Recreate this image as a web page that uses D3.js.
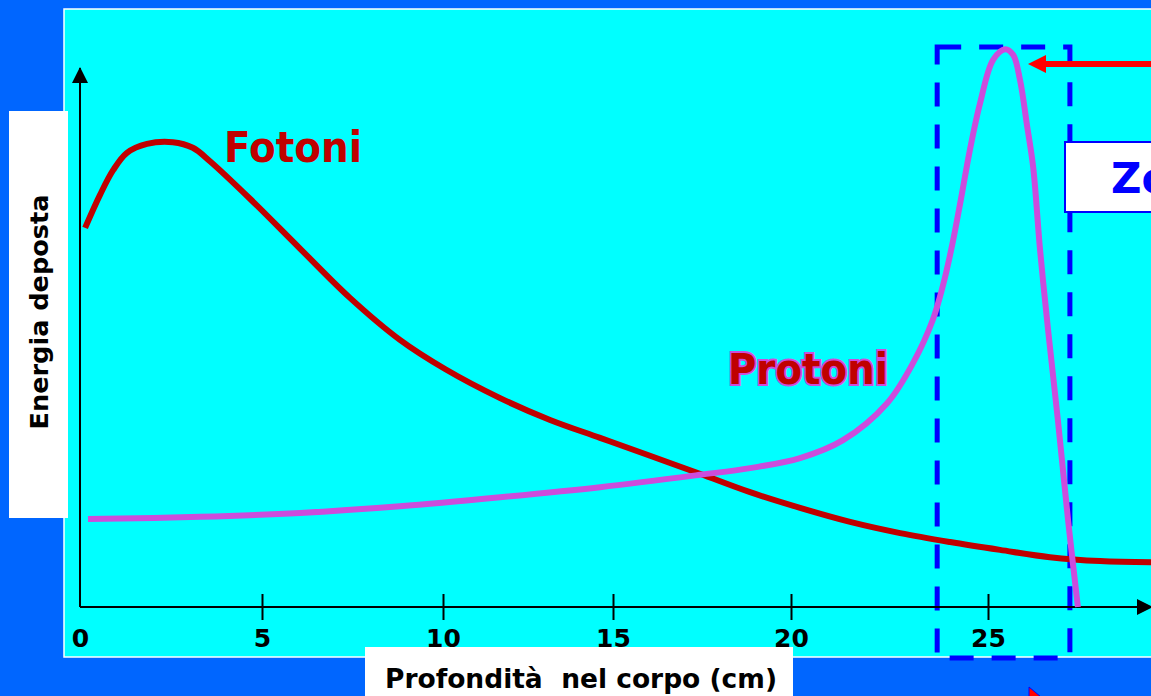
<!DOCTYPE html>
<html>
<head>
<meta charset="utf-8">
<script src="https://cdn.jsdelivr.net/npm/d3@7"></script>
<style>
  html, body { margin: 0; padding: 0; overflow: hidden; background: #0066ff; }
  svg { display: block; }
  text { font-family: "DejaVu Sans", Verdana, sans-serif; font-weight: bold; }
</style>
</head>
<body>
<div id="chart"></div>
<script>
// depth (cm) ticks drawn along the bottom axis
const tickValues = [0, 5, 10, 15, 20, 25];
const tickLabels = ["0", "5", "10", "15", "20", "25"];

// photon dose curve: depth in cm, deposited energy in arbitrary units (0-100)
const fotoniDepth = [0.14, 0.55, 0.91, 1.29, 1.84, 2.55, 3.10, 3.57, 4.67, 6.05, 7.43, 8.81, 10.06, 11.68,
  13.15, 14.62, 16.04, 17.44, 18.85, 20.23, 21.50, 22.77, 24.04, 25.33, 26.70, 28.08, 29.48];
const fotoniDose = [67.7, 73.6, 78.0, 81.1, 82.7, 83.0, 82.0, 79.6, 72.9, 64.0, 55.2, 47.7, 42.5, 37.3,
  33.4, 30.2, 27.0, 23.8, 20.5, 17.7, 15.2, 13.2, 11.6, 10.2, 8.9, 8.2, 8.0];

// proton dose curve (Bragg peak)
const protoniDepth = [0.22, 3.30, 6.05, 8.81, 11.68, 14.62, 17.44, 18.85, 20.23, 21.32, 22.44, 23.10, 23.60,
  23.86, 24.09, 24.31, 24.54, 24.80, 25.14, 25.47, 25.69, 25.88, 26.07, 26.24, 26.43, 26.65, 26.92, 27.20, 27.47];
const protoniDose = [15.7, 16.1, 16.8, 18.0, 19.6, 21.4, 23.6, 24.8, 26.6, 29.8, 36.4, 43.6, 51.3,
  57.5, 64.6, 72.7, 81.6, 90.0, 97.7, 99.6, 98.6, 94.1, 86.1, 78.6, 63.8, 49.5, 33.4, 15.5, 0];

// tumour zone along depth (cm)
const zona = [23.71, 27.25];

const width = 1151, height = 696;

const svg = d3.select("#chart").append("svg")
  .attr("width", width)
  .attr("height", height);

// the drawing is hand made, so the tick spacing is not even
const x = d3.scaleLinear()
  .domain([0, 5, 10, 15, 20, 25, 30])
  .range([80, 262, 443, 613, 791, 988, 1170]);

const y = d3.scaleLinear()
  .domain([0, 100])
  .range([607, 47]);

svg.append("rect")
  .attr("width", width).attr("height", height)
  .attr("fill", "#0066ff");

// cyan panel
svg.append("rect")
  .attr("x", 64).attr("y", 9)
  .attr("width", 1120).attr("height", 648)
  .attr("fill", "#00ffff")
  .attr("stroke", "#ffffff")
  .attr("stroke-width", 1.5);

let defs = svg.append("defs");
defs.append("marker")
  .attr("id", "tip")
  .attr("viewBox", "0 0 16 16")
  .attr("refX", 15).attr("refY", 8)
  .attr("markerWidth", 16).attr("markerHeight", 16)
  .attr("markerUnits", "userSpaceOnUse")
  .attr("orient", "auto")
  .append("path")
  .attr("d", "M0,0 L16,8 L0,16 Z")
  .attr("fill", "#000");

// tumour zone box (under the curves)
svg.append("rect")
  .attr("x", x(zona[0]))
  .attr("y", y(100))
  .attr("width", x(zona[1]) - x(zona[0]))
  .attr("height", 658 - y(100))
  .attr("fill", "none")
  .attr("stroke", "#0000ff")
  .attr("stroke-width", 5)
  .attr("stroke-dasharray", "24,18");

// axes
svg.append("line")
  .attr("x1", x(0)).attr("y1", y(0))
  .attr("x2", x(0)).attr("y2", 68)
  .attr("stroke", "#000").attr("stroke-width", 2)
  .attr("marker-end", "url(#tip)");

svg.append("line")
  .attr("x1", x(0)).attr("y1", y(0))
  .attr("x2", 1152).attr("y2", y(0))
  .attr("stroke", "#000").attr("stroke-width", 2)
  .attr("marker-end", "url(#tip)");

let xAxis = d3.axisBottom(x)
  .tickValues(tickValues)
  .tickSize(13)
  .tickFormat((d, i) => tickLabels[i]);

let gx = svg.append("g")
  .attr("transform", "translate(0," + y(0) + ")")
  .call(xAxis);

gx.select(".domain").remove();
gx.attr("font-size", 25).attr("font-family", null);
gx.selectAll(".tick line")
  .attr("y1", -13)
  .attr("stroke", "#000")
  .attr("stroke-width", 2)
  .filter(d => d === 0).remove();
gx.selectAll(".tick text")
  .attr("y", 40)
  .attr("dy", null)
  .attr("fill", "#000");

// curves
let line = d3.line()
  .x(d => x(d[0]))
  .y(d => y(d[1]))
  .curve(d3.curveCatmullRom.alpha(0.5));

svg.append("path")
  .datum(d3.zip(fotoniDepth, fotoniDose))
  .attr("d", line)
  .attr("fill", "none")
  .attr("stroke", "#c00000")
  .attr("stroke-width", 6);

svg.append("path")
  .datum(d3.zip(protoniDepth, protoniDose))
  .attr("d", line)
  .attr("fill", "none")
  .attr("stroke", "#cc4cdc")
  .attr("stroke-width", 6);

// curve labels
svg.append("text")
  .attr("x", 224).attr("y", 162)
  .attr("font-size", 43)
  .attr("textLength", 138)
  .attr("lengthAdjust", "spacingAndGlyphs")
  .attr("fill", "#c00000")
  .text("Fotoni");

svg.append("text")
  .attr("x", 728).attr("y", 384)
  .attr("font-size", 43)
  .attr("textLength", 160)
  .attr("lengthAdjust", "spacingAndGlyphs")
  .attr("fill", "#c00000")
  .attr("stroke", "#cc4cdc")
  .attr("stroke-width", 4)
  .attr("paint-order", "stroke")
  .text("Protoni");

// red arrow pointing at the peak
svg.append("line")
  .attr("x1", 1160).attr("y1", 64)
  .attr("x2", 1044).attr("y2", 64)
  .attr("stroke", "#ff0000").attr("stroke-width", 6);
svg.append("path")
  .attr("d", "M1028,64 L1046,55 L1046,73 Z")
  .attr("fill", "#ff0000");

// "Zona" box on the right edge, cut by the page as in the slide
svg.append("rect")
  .attr("x", 1065).attr("y", 142)
  .attr("width", 120).attr("height", 70)
  .attr("fill", "#ffffff")
  .attr("stroke", "#0000ff")
  .attr("stroke-width", 2);
svg.append("text")
  .attr("x", 1111).attr("y", 193)
  .attr("font-size", 42)
  .attr("fill", "#0000ff")
  .text("Zo");

// small pointer tip at the bottom edge
svg.append("path")
  .attr("d", "M1029,687 L1029,697 L1041,697 Z")
  .attr("fill", "#ff0000")
  .attr("stroke", "#0000ff")
  .attr("stroke-width", 1);

// axis title boxes
svg.append("rect")
  .attr("x", 9).attr("y", 111)
  .attr("width", 59).attr("height", 407)
  .attr("fill", "#ffffff");
svg.append("text")
  .attr("transform", "translate(48,312) rotate(-90)")
  .attr("text-anchor", "middle")
  .attr("font-size", 25)
  .attr("textLength", 235)
  .attr("lengthAdjust", "spacingAndGlyphs")
  .attr("fill", "#000")
  .text("Energia deposta");

svg.append("rect")
  .attr("x", 365).attr("y", 647)
  .attr("width", 428).attr("height", 60)
  .attr("fill", "#ffffff");
svg.append("text")
  .attr("x", 385).attr("y", 688)
  .attr("font-size", 26)
  .attr("textLength", 392)
  .attr("lengthAdjust", "spacingAndGlyphs")
  .attr("fill", "#000")
  .style("white-space", "pre")
  .text("Profondità  nel corpo (cm)");
</script>
</body>
</html>
